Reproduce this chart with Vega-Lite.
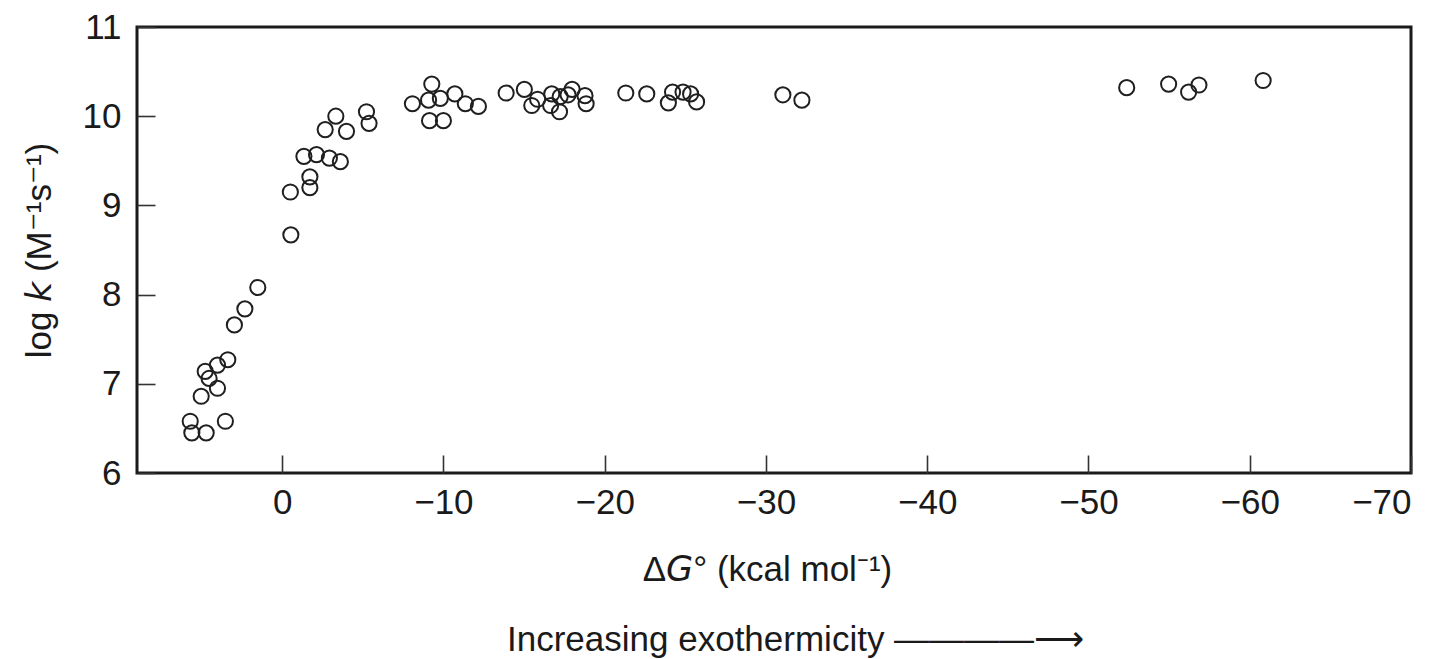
{
  "$schema": "https://vega.github.io/schema/vega-lite/v6.json",
  "width": 1274,
  "height": 446,
  "autosize": {"type": "none"},
  "padding": {"left": 137, "top": 27, "right": 28, "bottom": 186},
  "background": "white",
  "config": {
    "font": "Liberation Sans",
    "view": {"stroke": "#1a1a1a", "strokeWidth": 3},
    "axis": {
      "grid": false,
      "domain": false,
      "ticks": true,
      "tickColor": "#333333",
      "tickWidth": 1.6,
      "tickSize": 18,
      "offset": -18,
      "labelFontSize": 35,
      "labelColor": "#1a1a1a",
      "titleFontSize": 35,
      "titleFontWeight": "normal",
      "titleColor": "#1a1a1a"
    }
  },
  "title": {
    "text": "Increasing exothermicity ————⟶",
    "orient": "bottom",
    "anchor": "start",
    "frame": "group",
    "dx": 370,
    "offset": 36,
    "fontSize": 35,
    "fontWeight": "normal",
    "color": "#1a1a1a"
  },
  "data": {
    "values": [
      {"dG": 1.51, "logk": 8.08},
      {"dG": 2.31, "logk": 7.84},
      {"dG": 2.96, "logk": 7.66},
      {"dG": 3.37, "logk": 7.27},
      {"dG": 4.01, "logk": 7.21},
      {"dG": 4.77, "logk": 7.14},
      {"dG": 4.53, "logk": 7.06},
      {"dG": 4.01, "logk": 6.95},
      {"dG": 5.02, "logk": 6.86},
      {"dG": 5.70, "logk": 6.58},
      {"dG": 3.52, "logk": 6.58},
      {"dG": 5.60, "logk": 6.45},
      {"dG": 4.71, "logk": 6.45},
      {"dG": -0.54, "logk": 8.67},
      {"dG": -0.51, "logk": 9.15},
      {"dG": -1.72, "logk": 9.20},
      {"dG": -1.72, "logk": 9.32},
      {"dG": -1.35, "logk": 9.55},
      {"dG": -2.13, "logk": 9.57},
      {"dG": -2.93, "logk": 9.53},
      {"dG": -3.61, "logk": 9.49},
      {"dG": -2.67, "logk": 9.85},
      {"dG": -3.33, "logk": 10.00},
      {"dG": -3.99, "logk": 9.83},
      {"dG": -5.23, "logk": 10.05},
      {"dG": -5.39, "logk": 9.92},
      {"dG": -8.08, "logk": 10.14},
      {"dG": -9.28, "logk": 10.36},
      {"dG": -9.08, "logk": 10.18},
      {"dG": -9.81, "logk": 10.20},
      {"dG": -10.71, "logk": 10.25},
      {"dG": -11.36, "logk": 10.14},
      {"dG": -12.17, "logk": 10.11},
      {"dG": -9.14, "logk": 9.95},
      {"dG": -10.00, "logk": 9.95},
      {"dG": -13.89, "logk": 10.26},
      {"dG": -15.02, "logk": 10.30},
      {"dG": -15.48, "logk": 10.12},
      {"dG": -15.84, "logk": 10.19},
      {"dG": -16.72, "logk": 10.25},
      {"dG": -16.65, "logk": 10.12},
      {"dG": -17.24, "logk": 10.22},
      {"dG": -17.20, "logk": 10.05},
      {"dG": -17.98, "logk": 10.30},
      {"dG": -17.73, "logk": 10.24},
      {"dG": -18.78, "logk": 10.23},
      {"dG": -18.85, "logk": 10.14},
      {"dG": -21.31, "logk": 10.26},
      {"dG": -22.61, "logk": 10.25},
      {"dG": -23.95, "logk": 10.15},
      {"dG": -24.21, "logk": 10.27},
      {"dG": -24.86, "logk": 10.27},
      {"dG": -25.33, "logk": 10.25},
      {"dG": -25.70, "logk": 10.16},
      {"dG": -31.05, "logk": 10.24},
      {"dG": -32.23, "logk": 10.18},
      {"dG": -52.37, "logk": 10.32},
      {"dG": -54.97, "logk": 10.36},
      {"dG": -56.21, "logk": 10.27},
      {"dG": -56.85, "logk": 10.35},
      {"dG": -60.83, "logk": 10.40}
    ]
  },
  "mark": {
    "type": "point",
    "shape": "circle",
    "filled": false,
    "size": 230,
    "stroke": "#1f1f1f",
    "strokeWidth": 2,
    "opacity": 1
  },
  "encoding": {
    "x": {
      "field": "dG",
      "type": "quantitative",
      "scale": {"domain": [9, -70], "nice": false, "zero": false},
      "axis": {
        "values": [0, -10, -20, -30, -40, -50, -60, -70],
        "title": "Δ𝘎° (kcal mol⁻¹)",
        "titleX": 630,
        "titleY": 125,
        "titleBaseline": "alphabetic",
        "labelPadding": 12
      }
    },
    "y": {
      "field": "logk",
      "type": "quantitative",
      "scale": {"domain": [6, 11], "nice": false, "zero": false},
      "axis": {
        "values": [6, 7, 8, 9, 10, 11],
        "title": "log 𝘬 (M⁻¹s⁻¹)",
        "titleX": -105,
        "titleY": 223,
        "titleAngle": 270,
        "titleAlign": "center",
        "titleBaseline": "alphabetic",
        "labelPadding": 16
      }
    }
  }
}
